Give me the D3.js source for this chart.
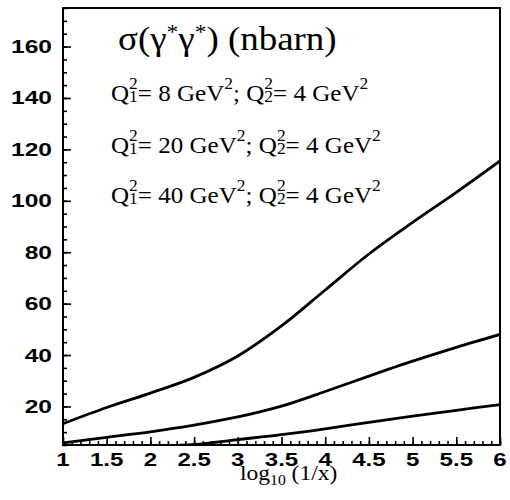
<!DOCTYPE html>
<html><head><meta charset="utf-8">
<script src="https://cdn.jsdelivr.net/npm/d3@7"></script>
<style>body{margin:0;background:#fff}</style>
</head><body>
<svg id="c" width="510" height="500"></svg>
<script>
const xVals = [1, 1.5, 2, 2.5, 3, 3.5, 4, 4.5, 5, 5.5, 6];
const sigmaQ8  = [13.3, 19.6, 25.2, 31.3, 39.6, 51.3, 65.3, 79.3, 91.6, 103.3, 115.5];
const sigmaQ20 = [5.8, 8.0, 10.1, 12.7, 15.9, 20.1, 25.8, 31.8, 37.6, 43.0, 48.0];
const sigmaQ40 = [2.6, 3.5, 4.3, 5.2, 7.1, 9.0, 11.3, 13.8, 16.2, 18.5, 20.7];
const xTickLabels = ["1","1.5","2","2.5","3","3.5","4","4.5","5","5.5","6"];
const yTickLabels = [20, 40, 60, 80, 100, 120, 140, 160];
const legendLines = [["8","4"],["20","4"],["40","4"]];

const svg = d3.select("#c");
const L = 63, R = 500, T = 8, B = 445;
const x = d3.scaleLinear().domain([1, 6]).range([L, R]);
const y = d3.scaleLinear().domain([5, 175]).range([B, T]);

svg.append("defs").append("clipPath").attr("id","clip")
  .append("rect").attr("x",L).attr("y",T).attr("width",R-L).attr("height",B-T);

// minor + major ticks (inward)
const gx = svg.append("g").attr("transform",`translate(0,${B})`);
gx.call(d3.axisBottom(x).tickValues(d3.range(1, 6.0001, 0.1)).tickSize(-4).tickFormat(""));
gx.append("g").call(d3.axisBottom(x).tickValues(xTickLabels.map(Number)).tickSize(-8).tickFormat(""));
const gy = svg.append("g").attr("transform",`translate(${L},0)`);
gy.call(d3.axisRight(y).tickValues(d3.range(5, 175.001, 5)).tickSize(4).tickFormat(""));
gy.append("g").call(d3.axisRight(y).tickValues(yTickLabels).tickSize(8).tickFormat(""));
svg.selectAll(".domain").remove();
svg.selectAll(".tick line").attr("stroke","#000").attr("stroke-width",1.6);

// frame
svg.append("rect").attr("x",L).attr("y",T).attr("width",R-L).attr("height",B-T)
  .attr("fill","none").attr("stroke","#000").attr("stroke-width",2);

// tick labels
const numFont = "'Liberation Sans', Arial, sans-serif";
svg.selectAll(".xl").data(xTickLabels).enter().append("text")
  .attr("transform", d => `translate(${x(+d)},466) scale(1.3,1)`)
  .attr("text-anchor","middle").attr("font-family",numFont).attr("font-weight","bold")
  .attr("font-size",18.5).text(d => d);
svg.selectAll(".yl").data(yTickLabels).enter().append("text")
  .attr("transform", d => `translate(52,${y(d)+6.5}) scale(1.33,1)`)
  .attr("text-anchor","end").attr("font-family",numFont).attr("font-weight","bold")
  .attr("font-size",18.5).text(d => d);

// curves
const line = d3.line().x((d,i) => x(xVals[i])).y(d => y(d)).curve(d3.curveCatmullRom.alpha(0.5));
const g = svg.append("g").attr("clip-path","url(#clip)");
[sigmaQ8, sigmaQ20, sigmaQ40].forEach(s => {
  g.append("path").attr("d", line(s)).attr("fill","none").attr("stroke","#000").attr("stroke-width",2.8);
});

// title
const serif = "'Liberation Serif', 'Times New Roman', serif";
const t = svg.append("text").attr("transform","translate(118,50) scale(1.12,1)")
  .attr("font-family",serif).attr("font-size",33);
t.append("tspan").text("σ(γ");
t.append("tspan").attr("font-size",21).attr("dy",-11).text("*");
t.append("tspan").attr("dy",11).text("γ");
t.append("tspan").attr("font-size",21).attr("dy",-11).text("*");
t.append("tspan").attr("dy",11).text(") (nbarn)");

// legend lines
const base = [101, 153, 203];
legendLines.forEach((q, i) => {
  const tx = svg.append("text").attr("transform",`translate(111,${base[i]}) scale(1.09,1)`)
    .attr("font-family",serif).attr("font-size",23);
  const Q = (sub) => {
    tx.append("tspan").attr("dy",0).text("Q");
    tx.append("tspan").attr("font-size",16).attr("dy",-12).text("2");
    tx.append("tspan").attr("font-size",16).attr("dx",-8).attr("dy",13).text(sub);
  };
  Q("1");
  tx.append("tspan").attr("dy",-1).text("= " + q[0] + " GeV");
  tx.append("tspan").attr("font-size",16).attr("dy",-12).text("2");
  tx.append("tspan").attr("dy",12).text("; ");
  Q("2");
  tx.append("tspan").attr("dy",-1).text("= " + q[1] + " GeV");
  tx.append("tspan").attr("font-size",16).attr("dy",-12).text("2");
});

// x axis title
const xt = svg.append("text").attr("transform","translate(240,480) scale(1.12,1)")
  .attr("font-family",serif).attr("font-size",21);
xt.append("tspan").text("log");
xt.append("tspan").attr("font-size",14).attr("dy",5).text("10");
xt.append("tspan").attr("dy",-5).text(" (1/x)");
</script>
</body></html>
